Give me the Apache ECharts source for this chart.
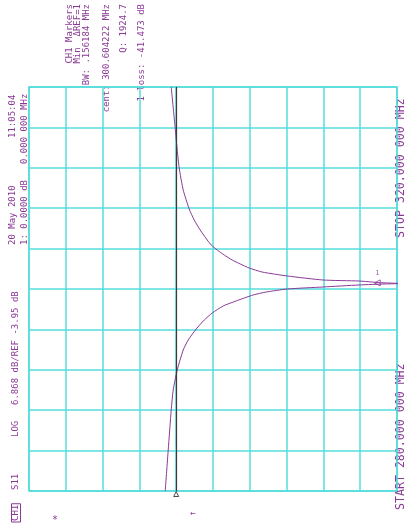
<!DOCTYPE html>
<html>
<head>
<meta charset="utf-8">
<style>
  html, body { margin: 0; padding: 0; background: #fff; }
  #chart { width: 406px; height: 528px; }
</style>
<script src="https://cdn.jsdelivr.net/npm/echarts@6/dist/echarts.min.js"></script>
</head>
<body>
<div id="chart"></div>
<script>
// S11 sweep, 280 - 320 MHz, LOG 6.868 dB/div, REF -3.95 dB (ref line at 4th division)
var refLevel = -3.95, dbPerDiv = 6.868, refDiv = 4, divs = 10;
var freqStart = 280, freqStop = 320, freqStep = 4;

// trace (ascending frequency)
var freqMHz = [280.00, 284.06, 288.02, 290.00, 291.98, 293.96, 294.95, 296.04, 296.93, 297.62,
               298.32, 298.71, 299.41, 299.70, 300.00, 300.20, 300.40,
               300.50, 300.54, 300.59, 300.63, 300.69,
               300.79, 300.89, 301.29, 301.68, 302.08, 302.48, 302.87, 303.37, 303.86, 304.36,
               304.85, 305.84, 306.83, 307.92, 309.80, 311.98, 313.76, 315.94, 320.00];
var s11dB = [-1.90, -2.46, -3.02, -3.39, -4.14, -5.26, -6.19, -7.68, -9.18, -10.67,
             -12.72, -14.59, -18.32, -20.75, -24.67, -31.38, -38.10,
             -42.96, -45.75, -43.89, -41.65, -40.53,
             -38.10, -31.38, -24.67, -20.00, -17.57, -15.89, -14.40, -12.91, -11.60, -10.48,
             -9.74, -8.43, -7.31, -6.38, -5.26, -4.51, -4.14, -3.76, -3.02];

// markers
var markerFreq = [300.604];
var markerDB = [-41.473];
var markerNames = ['1'];

var purple = '#8a3a96';
var cyan = '#55dcdc';
var mono = '"DejaVu Sans Mono", "Liberation Mono", monospace';

var trace = [];
for (var i = 0; i < freqMHz.length; i++) trace.push([s11dB[i], freqMHz[i]]);
var mk = [];
for (var j = 0; j < markerFreq.length; j++) mk.push({ name: markerNames[j], value: [markerDB[j], markerFreq[j]] });

// rotated (bottom-to-top) annotation text
function vtext(str, x, y, align, size, extra) {
    var t = {
        type: 'text', x: x, y: y, rotation: Math.PI / 2,
        style: {
            text: str, fill: purple, font: (size || 9) + 'px ' + mono,
            textAlign: align, textVerticalAlign: 'middle'
        }
    };
    if (extra) for (var k in extra) t.style[k] = extra[k];
    return t;
}

var chart = echarts.init(document.getElementById('chart'));
chart.setOption({
    animation: false,
    grid: { left: 29, top: 87, width: 368, height: 404, show: true, borderColor: cyan, borderWidth: 1.5 },
    xAxis: [
        {
            type: 'value', inverse: true, show: false,
            min: refLevel - (divs - refDiv) * dbPerDiv,
            max: refLevel + refDiv * dbPerDiv
        },
        {
            type: 'value', min: 0, max: divs, interval: 1,
            axisLine: { show: false }, axisTick: { show: false }, axisLabel: { show: false },
            splitLine: { show: true, lineStyle: { color: cyan, width: 1.5 } }
        }
    ],
    yAxis: {
        type: 'value', min: freqStart, max: freqStop, interval: freqStep,
        axisLine: { show: false }, axisTick: { show: false }, axisLabel: { show: false },
        splitLine: { show: true, lineStyle: { color: cyan, width: 1.5 } }
    },
    series: [
        {
            type: 'line', xAxisIndex: 0, data: trace, smooth: 0.2, clip: true,
            symbol: 'none', lineStyle: { color: purple, width: 1 },
            markLine: {
                silent: true, symbol: 'none', label: { show: false },
                lineStyle: { color: '#3a3a3a', width: 1.2, type: 'solid' },
                data: [{ xAxis: refLevel }]
            }
        },
        {
            type: 'scatter', xAxisIndex: 0, data: mk, symbol: 'triangle', symbolRotate: 90,
            symbolSize: 6, itemStyle: { color: 'none', borderColor: purple, borderWidth: 1 },
            label: { show: true, formatter: '{b}', position: 'top', distance: 1, color: purple, fontSize: 7, fontFamily: mono }
        },
        {
            // reference position arrow under the grid
            type: 'scatter', xAxisIndex: 0, data: [[refLevel, freqStart]], symbol: 'triangle',
            symbolSize: 5, symbolOffset: [0, 3], clip: false,
            itemStyle: { color: '#fff', borderColor: '#222', borderWidth: 1 }
        }
    ],
    graphic: [
        vtext('CH1 Markers', 70, 4, 'right'),
        vtext('Min  \u0394REF=1', 78, 4, 'right'),
        vtext('BW: .156184 MHz', 87, 4, 'right'),
        vtext('cent: 300.604222 MHz', 107, 4, 'right'),
        vtext('Q: 1924.7', 124, 4, 'right'),
        vtext('1 loss: -41.473 dB', 142, 4, 'right'),
        vtext('20 May 2010', 13, 245, 'left'),
        vtext('11:05:04', 13, 138, 'left'),
        vtext('0.000 000 MHz', 25, 164, 'left'),
        vtext('1: 0.0000 dB', 25, 245, 'left'),
        vtext('S11', 16, 490, 'left'),
        vtext('LOG', 16, 437, 'left'),
        vtext('6.868 dB/REF -3.95 dB', 16, 405, 'left'),
        vtext('CH1', 16, 522, 'left', 9, { borderColor: purple, borderWidth: 1, padding: [0, 1] }),
        vtext('STOP 320.000 000 MHz', 401, 238, 'left', 11.6),
        vtext('START 280.000 000 MHz', 401, 510, 'left', 11.6),
        { type: 'text', x: 55, y: 520, style: { text: '*', fill: purple, font: '10px ' + mono, textAlign: 'center', textVerticalAlign: 'middle' } },
        { type: 'text', x: 193, y: 514, style: { text: '\u2190', fill: purple, font: '9px ' + mono, textAlign: 'center', textVerticalAlign: 'middle' } }
    ]
});
window.onresize = chart.resize;
</script>
</body>
</html>
